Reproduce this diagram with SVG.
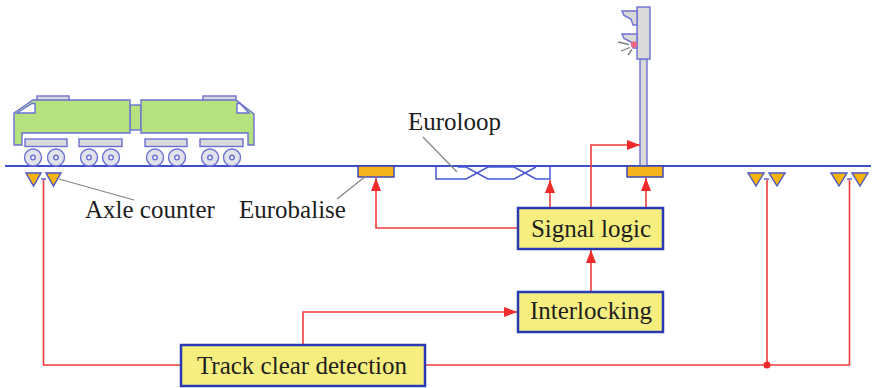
<svg xmlns="http://www.w3.org/2000/svg" width="874" height="388" viewBox="0 0 874 388">
  <defs>
    <style>
      .lbl { font-family: "Liberation Serif", "Times New Roman", serif; font-size: 25px; fill: #1e1e1e; }
      .box { fill: #f6ef80; stroke: #2a3ab4; stroke-width: 2.5; }
      .wire { fill: none; stroke: #ef3b3b; stroke-width: 1.6; }
      .track { stroke: #3f4fcc; stroke-width: 2; fill: none; }
      .outl { stroke: #6b70d4; stroke-width: 1.4; }
      .body { fill: #b6e27e; }
      .grey { fill: #d9d9d9; }
      .wheel { fill: #e2e2ea; }
      .axle { fill: #f5b30c; stroke: #4a55c8; stroke-width: 1.4; }
      .balise { fill: #f5b51a; stroke: #2f3fb8; stroke-width: 1.4; }
      .leader { stroke: #858585; stroke-width: 1.2; fill: none; }
    </style>
    <marker id="arrow" viewBox="0 0 10 10" refX="10" refY="5" markerWidth="13" markerHeight="10" markerUnits="userSpaceOnUse" orient="auto" preserveAspectRatio="none">
      <path d="M0,0 L10,5 L0,10 Z" fill="#ef2a2a"/>
    </marker>
  </defs>
  <rect width="874" height="388" fill="#ffffff"/>

  <!-- track -->
  <g id="track">
    <line class="track" x1="5" y1="166" x2="871" y2="166"/>
  </g>

  <!-- locomotive pair -->
  <g id="train">
    <rect class="grey outl" x="37" y="96" width="32" height="5"/>
    <rect class="grey outl" x="203" y="96" width="33" height="5"/>
    <rect class="body outl" x="130" y="105" width="11" height="25"/>
    <path class="body outl" d="M14,113 L33,100 H130 V133 H22 V145 H14 Z"/>
    <path class="outl" fill="#ffffff" d="M17,113 L32,103.5 H35 V113 Z"/>
    <path class="body outl" d="M141,100 H236 L254,114 V145 H248 V133 H141 Z"/>
    <path class="outl" fill="#ffffff" d="M237,103.5 H240 L249,113 H237 Z"/>
    <rect class="grey outl" x="25" y="139" width="42" height="7.5"/>
    <rect class="grey outl" x="79" y="139" width="43" height="7.5"/>
    <rect class="grey outl" x="145" y="139" width="42" height="7.5"/>
    <rect class="grey outl" x="200" y="139" width="43" height="7.5"/>
    <g class="wheel outl">
      <circle cx="33" cy="157.5" r="8.5"/>
      <circle cx="56" cy="157.5" r="8.5"/>
      <circle cx="89" cy="157.5" r="8.5"/>
      <circle cx="111" cy="157.5" r="8.5"/>
      <circle cx="155" cy="157.5" r="8.5"/>
      <circle cx="177" cy="157.5" r="8.5"/>
      <circle cx="210" cy="157.5" r="8.5"/>
      <circle cx="232" cy="157.5" r="8.5"/>
    </g>
    <g fill="#ffffff" class="outl">
      <circle cx="33" cy="157.5" r="2.3"/>
      <circle cx="56" cy="157.5" r="2.3"/>
      <circle cx="89" cy="157.5" r="2.3"/>
      <circle cx="111" cy="157.5" r="2.3"/>
      <circle cx="155" cy="157.5" r="2.3"/>
      <circle cx="177" cy="157.5" r="2.3"/>
      <circle cx="210" cy="157.5" r="2.3"/>
      <circle cx="232" cy="157.5" r="2.3"/>
    </g>
  </g>

  <!-- signal mast -->
  <g id="signal">
    <rect class="grey outl" x="640" y="59" width="7" height="107"/>
    <rect class="grey outl" x="637" y="7" width="13" height="52"/>
    <path class="grey outl" d="M622,11 H637 V25 H633 L631,19 L624,15.5 Z"/>
    <path class="grey outl" d="M622,34 H637 V48 H633 L631,42 L624,38.5 Z"/>
    <circle cx="634" cy="44.5" r="3.2" fill="#f06585"/>
    <g stroke="#7a7a7a" stroke-width="1.3">
      <line x1="618" y1="42" x2="629" y2="44.5"/>
      <line x1="621" y1="51" x2="630" y2="47.5"/>
      <line x1="628" y1="55" x2="632" y2="49.5"/>
    </g>
  </g>

  <!-- balises -->
  <g id="eurobalise">
    <rect class="balise" x="358" y="166" width="36" height="11"/>
  </g>
  <g id="signal-balise">
    <rect class="balise" x="627" y="166" width="36" height="11"/>
  </g>

  <!-- euroloop cable -->
  <g id="euroloop">
    <path fill="none" stroke="#4a58d0" stroke-width="1.5" d="M436,166 V179 H466 L488,167 H514 L536,179 H550 V166"/>
    <path fill="none" stroke="#4a58d0" stroke-width="1.5" d="M458,167 H466 L488,179 H514 L536,167"/>
  </g>

  <!-- axle counters -->
  <g id="axle-counter-1">
    <line x1="41" y1="179" x2="46" y2="179" stroke="#4a55c8" stroke-width="1.4"/>
    <path class="axle" d="M26,173 H41 L33.5,186 Z"/>
    <path class="axle" d="M46,173 H61 L53.5,186 Z"/>
  </g>
  <g id="axle-counter-2">
    <line x1="764" y1="179" x2="769" y2="179" stroke="#4a55c8" stroke-width="1.4"/>
    <path class="axle" d="M748,173 H764 L756,186 Z"/>
    <path class="axle" d="M769,173 H785 L777,186 Z"/>
  </g>
  <g id="axle-counter-3">
    <line x1="847" y1="179" x2="852" y2="179" stroke="#4a55c8" stroke-width="1.4"/>
    <path class="axle" d="M831,173 H847 L839,186 Z"/>
    <path class="axle" d="M852,173 H868 L860,186 Z"/>
  </g>

  <!-- labels with leader lines -->
  <g id="labels">
    <line class="leader" x1="59" y1="179" x2="134" y2="200"/>
    <text class="lbl" x="85" y="218">Axle counter</text>
    <line class="leader" x1="337" y1="199" x2="366" y2="176"/>
    <text class="lbl" x="239" y="218">Eurobalise</text>
    <line class="leader" x1="423" y1="137" x2="457" y2="172"/>
    <text class="lbl" x="408" y="130">Euroloop</text>
  </g>

  <!-- connectors -->
  <g id="connectors">
    <path class="wire" d="M518,228 H376 V178" marker-end="url(#arrow)"/>
    <path class="wire" d="M550,208 V180" marker-end="url(#arrow)"/>
    <path class="wire" d="M591,208 V145 H640" marker-end="url(#arrow)"/>
    <path class="wire" d="M646,208 V178" marker-end="url(#arrow)"/>
    <path class="wire" d="M591,292 V250" marker-end="url(#arrow)"/>
    <path class="wire" d="M303,345 V312 H517" marker-end="url(#arrow)"/>
    <path class="wire" d="M181,365 H43.5 V180"/>
    <path class="wire" d="M425,365 H849.5 V180"/>
    <path class="wire" d="M767,365 V180"/>
    <circle cx="767" cy="365" r="3.5" fill="#ef2a2a"/>
  </g>

  <!-- processing blocks -->
  <g id="signal-logic">
    <rect class="box" x="518" y="208" width="145" height="41"/>
    <text class="lbl" x="591" y="237" text-anchor="middle">Signal logic</text>
  </g>
  <g id="interlocking">
    <rect class="box" x="518" y="292" width="145" height="40"/>
    <text class="lbl" x="591" y="319" text-anchor="middle">Interlocking</text>
  </g>
  <g id="track-clear-detection">
    <rect class="box" x="181" y="345" width="244" height="41"/>
    <text class="lbl" x="302" y="374" text-anchor="middle">Track clear detection</text>
  </g>
</svg>
